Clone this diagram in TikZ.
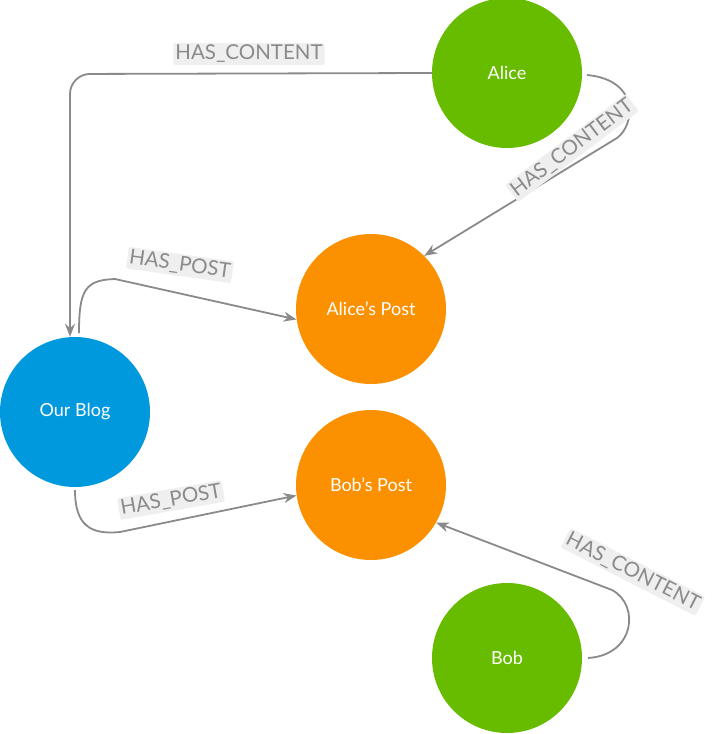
\documentclass[tikz,border=0pt]{standalone}
\usepackage{fontspec}
\setmainfont{Lato}
\usetikzlibrary{arrows.meta}
\definecolor{gr}{HTML}{68BC00}
\definecolor{or}{HTML}{FB9000}
\definecolor{bl}{HTML}{0099DD}
\definecolor{ln}{HTML}{8A8A8A}
\definecolor{lb}{HTML}{EFEFEF}
\begin{document}
\begin{tikzpicture}[x=1pt,y=-1pt,
  nd/.style={circle,minimum size=150pt,inner sep=0pt,text=white,font=\fontsize{18}{20}\selectfont},
  ed/.style={draw=ln,line width=1.8pt,-{Stealth[length=13pt,width=10pt]}},
  lab/.style={fill=lb,text=ln,font=\fontsize{20.5}{22}\selectfont,inner sep=2pt,rounded corners=2pt}]
\useasboundingbox (0,0) rectangle (714,734);
\node[nd,fill=gr] (alice) at (507,73) {Alice};
\node[nd,fill=or] (ap) at (371,309) {Alice's Post};
\node[nd,fill=bl] (blog) at (75,412) {Our Blog};
\node[nd,fill=or] (bp) at (371,485) {Bob's Post};
\node[nd,fill=gr] (bob) at (507,658) {Bob};
\coordinate (c1) at (70,95);
\draw[ed,rounded corners=20pt] (alice.west) -- (70,74) -- (blog.north -| c1);
\node[lab] at (249,54) {HAS\_CONTENT};
\draw[ed] (587,75) .. controls (640,80) and (635,125) .. (617,138) -- (ap.45);
\node[lab,rotate=37] at (572,148) {HAS\_CONTENT};
\draw[ed] (79,333) .. controls (79,290) and (85,280) .. (115,279) -- (ap.188);
\node[lab,rotate=-8] at (180,265) {HAS\_POST};
\draw[ed] (75,490) .. controls (75,525) and (90,535) .. (120,532) -- (bp.188);
\node[lab,rotate=10] at (171,500) {HAS\_POST};
\draw[ed] (588,658) .. controls (635,655) and (640,605) .. (612,590) -- (bp.-30);
\node[lab,rotate=-27] at (633,572) {HAS\_CONTENT};
\end{tikzpicture}
\end{document}
